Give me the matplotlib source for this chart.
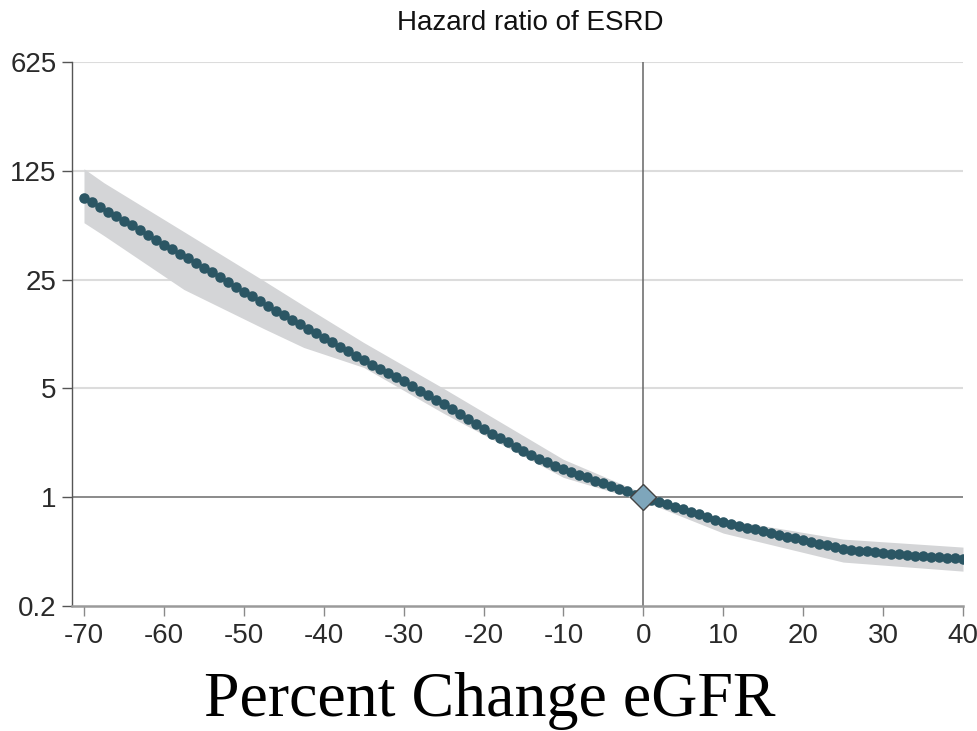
import matplotlib
matplotlib.use("Agg")
import matplotlib.pyplot as plt
import numpy as np

# percent change in eGFR (one dot per unit) and hazard ratio of ESRD
pct_change = list(range(-70, 41))
hazard_ratio = [
    83.9, 78.4, 73.2, 68.4, 63.9, 59.7, 55.7, 51.9, 48.3, 45.0,
    41.9, 39.2, 36.6, 34.2, 31.9, 29.8, 27.8, 25.9, 24.1, 22.5,
    20.9, 19.5, 18.2, 16.9, 15.8, 14.7, 13.8, 12.9, 12.1, 11.3,
    10.6, 9.92, 9.27, 8.66, 8.09, 7.56, 7.11, 6.68, 6.28, 5.90,
    5.55, 5.18, 4.84, 4.52, 4.23, 3.95, 3.67, 3.41, 3.16, 2.94,
    2.73, 2.56, 2.40, 2.25, 2.10, 1.97, 1.87, 1.77, 1.68, 1.59,
    1.51, 1.45, 1.39, 1.34, 1.28, 1.23, 1.18, 1.13, 1.09, 1.04,
    1.00, 0.965, 0.932, 0.899, 0.868, 0.838, 0.806, 0.776, 0.746, 0.718,
    0.691, 0.673, 0.656, 0.638, 0.622, 0.605, 0.589, 0.574, 0.559, 0.544,
    0.530, 0.516, 0.503, 0.490, 0.477, 0.464, 0.459, 0.453, 0.448, 0.443,
    0.437, 0.434, 0.430, 0.426, 0.422, 0.418, 0.415, 0.411, 0.408, 0.404,
    0.400,
]

# confidence band
band_x = [-70, -67.5, -57.5, -47.5, -42.5, -35, -25, -10, 0, 10, 25, 40]
band_upper = [128.8, 104.7, 50.8, 24.6, 17.0, 9.86, 5.00, 1.75, 1.06, 0.723, 0.538, 0.478]
band_lower = [58.0, 47.9, 21.6, 12.1, 9.16, 6.82, 3.46, 1.34, 0.943, 0.588, 0.383, 0.335]

y_ticks = [0.2, 1, 5, 25, 125, 625]
y_tick_labels = ["0.2", "1", "5", "25", "125", "625"]
x_ticks = [-70, -60, -50, -40, -30, -20, -10, 0, 10, 20, 30, 40]

plt.rcParams["font.family"] = ["Liberation Sans", "DejaVu Sans"]

fig = plt.figure(figsize=(9.77, 7.31), dpi=100)
ax = fig.add_axes([72 / 977, 1 - 606 / 731, (963 - 72) / 977, (606 - 62) / 731])

ax.set_yscale("log")
ax.set_xlim(-71.5, 40)
ax.set_ylim(0.2, 625)

# grid lines
for yv in y_ticks[2:]:
    ax.axhline(yv, color="#dcdcdc", lw=1.5, zorder=0)
ax.axhline(1, color="#8a8a8a", lw=1.4, zorder=1)
ax.axvline(0, color="#666666", lw=1.1, zorder=1)

ax.fill_between(band_x, band_lower, band_upper, color="#d4d5d7", lw=0, zorder=2)
ax.plot(pct_change, hazard_ratio, "o", color="#2b5664", ms=7.6, mew=0, zorder=3)
ax.plot([0], [1], "D", ms=13.5, mfc="#7ea6bb", mec="#444444", mew=1.0, zorder=4)

ax.set_yticks(y_ticks)
ax.set_yticklabels(y_tick_labels)
ax.yaxis.set_minor_locator(matplotlib.ticker.NullLocator())
ax.set_xticks(x_ticks)
ax.set_xticklabels([str(v) for v in x_ticks])

for s in ["top", "right"]:
    ax.spines[s].set_visible(False)
ax.spines["left"].set_color("#555555")
ax.spines["left"].set_linewidth(1.0)
ax.spines["bottom"].set_color("#9a9a9a")
ax.spines["bottom"].set_linewidth(1.8)

ax.tick_params(axis="y", length=7, width=1, color="#555555", pad=4,
               labelsize=20, labelcolor="#2a2a2a")
ax.tick_params(axis="x", length=7, width=1, color="#8a8a8a", pad=5,
               labelsize=20, labelcolor="#2a2a2a")

fig.text(530 / 977, 1 - 23 / 731, "Hazard ratio of ESRD", ha="center", va="center",
         fontsize=20, color="#111111")
fig.text(490 / 977, (731 - 716) / 731, "Percent Change eGFR", ha="center", va="baseline",
         fontsize=46, family=["Liberation Serif", "DejaVu Serif"], color="black")

fig.savefig("out.png", dpi=100)
